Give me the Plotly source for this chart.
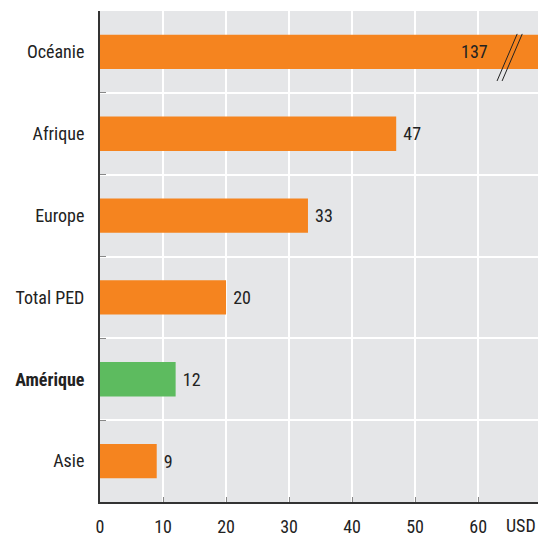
import plotly.graph_objects as go

categories = ["Océanie", "Afrique", "Europe", "Total PED", "Amérique", "Asie"]
values = [137, 47, 33, 20, 12, 9]
colors = ["#F5841F", "#F5841F", "#F5841F", "#F5841F", "#5DBB5F", "#F5841F"]
tick_labels = ["Océanie", "Afrique", "Europe", "Total PED", "<b>Amérique</b>", "Asie"]
x_ticks = [0, 10, 20, 30, 40, 50, 60]
x_max = 69.5

FONT = "Liberation Sans Narrow, Arial Narrow, Roboto Condensed, sans-serif"
FS = 18

texts = ["" if v > x_max else " " + str(v) for v in values]

fig = go.Figure()
fig.add_trace(go.Bar(
    y=categories, x=values, orientation="h",
    marker=dict(color=colors, line=dict(width=0)),
    width=0.42,
    text=texts, textposition="outside", cliponaxis=False,
    textfont=dict(family=FONT, size=FS, color="#222"),
    hoverinfo="skip",
))

# label for truncated bar
fig.add_annotation(x=59.5, y=categories[0], text=str(values[0]), showarrow=False,
                   font=dict(family=FONT, size=FS, color="#222"), xanchor="center")
# break marks
for off in [0, 0.8]:
    fig.add_shape(type="line", xref="x", yref="y",
                  x0=63.0 + off, y0=0.355, x1=66.2 + off, y1=-0.22,
                  line=dict(color="#222", width=1))

fig.add_annotation(x=1, xref="paper", y=0, yref="paper", yshift=-23, text="USD",
                   showarrow=False, xanchor="right", yanchor="middle",
                   font=dict(family=FONT, size=FS, color="#222"))

fig.update_layout(
    width=538, height=536,
    margin=dict(l=100, r=0, t=11, b=34, autoexpand=False),
    paper_bgcolor="white", plot_bgcolor="#E5E6E8",
    showlegend=False, bargap=0.58,
    font=dict(family=FONT, size=FS, color="#222"),
)
fig.update_xaxes(range=[0, x_max], tickvals=x_ticks, ticktext=[str(t) for t in x_ticks],
                 showgrid=True, gridcolor="white", gridwidth=2, zeroline=False,
                 showline=True, linecolor="#333", linewidth=2,
                 ticks="inside", ticklen=5, tickcolor="#888", ticklabelstandoff=7,
                 automargin=False,
                 tickfont=dict(family=FONT, size=FS, color="#222"))
fig.update_yaxes(categoryorder="array", categoryarray=categories, autorange="reversed",
                 tickvals=categories, ticktext=tick_labels,
                 tickson="boundaries", showgrid=True, gridcolor="white", gridwidth=2,
                 showline=True, linecolor="#333", linewidth=2,
                 ticks="inside", ticklen=6, tickcolor="#888",
                 ticklabelstandoff=10, automargin=False,
                 tickfont=dict(family=FONT, size=FS, color="#222"))

fig.write_html("out.html", config={"displayModeBar": False},
               post_script="document.body.style.margin='0';document.body.style.overflow='hidden';")
